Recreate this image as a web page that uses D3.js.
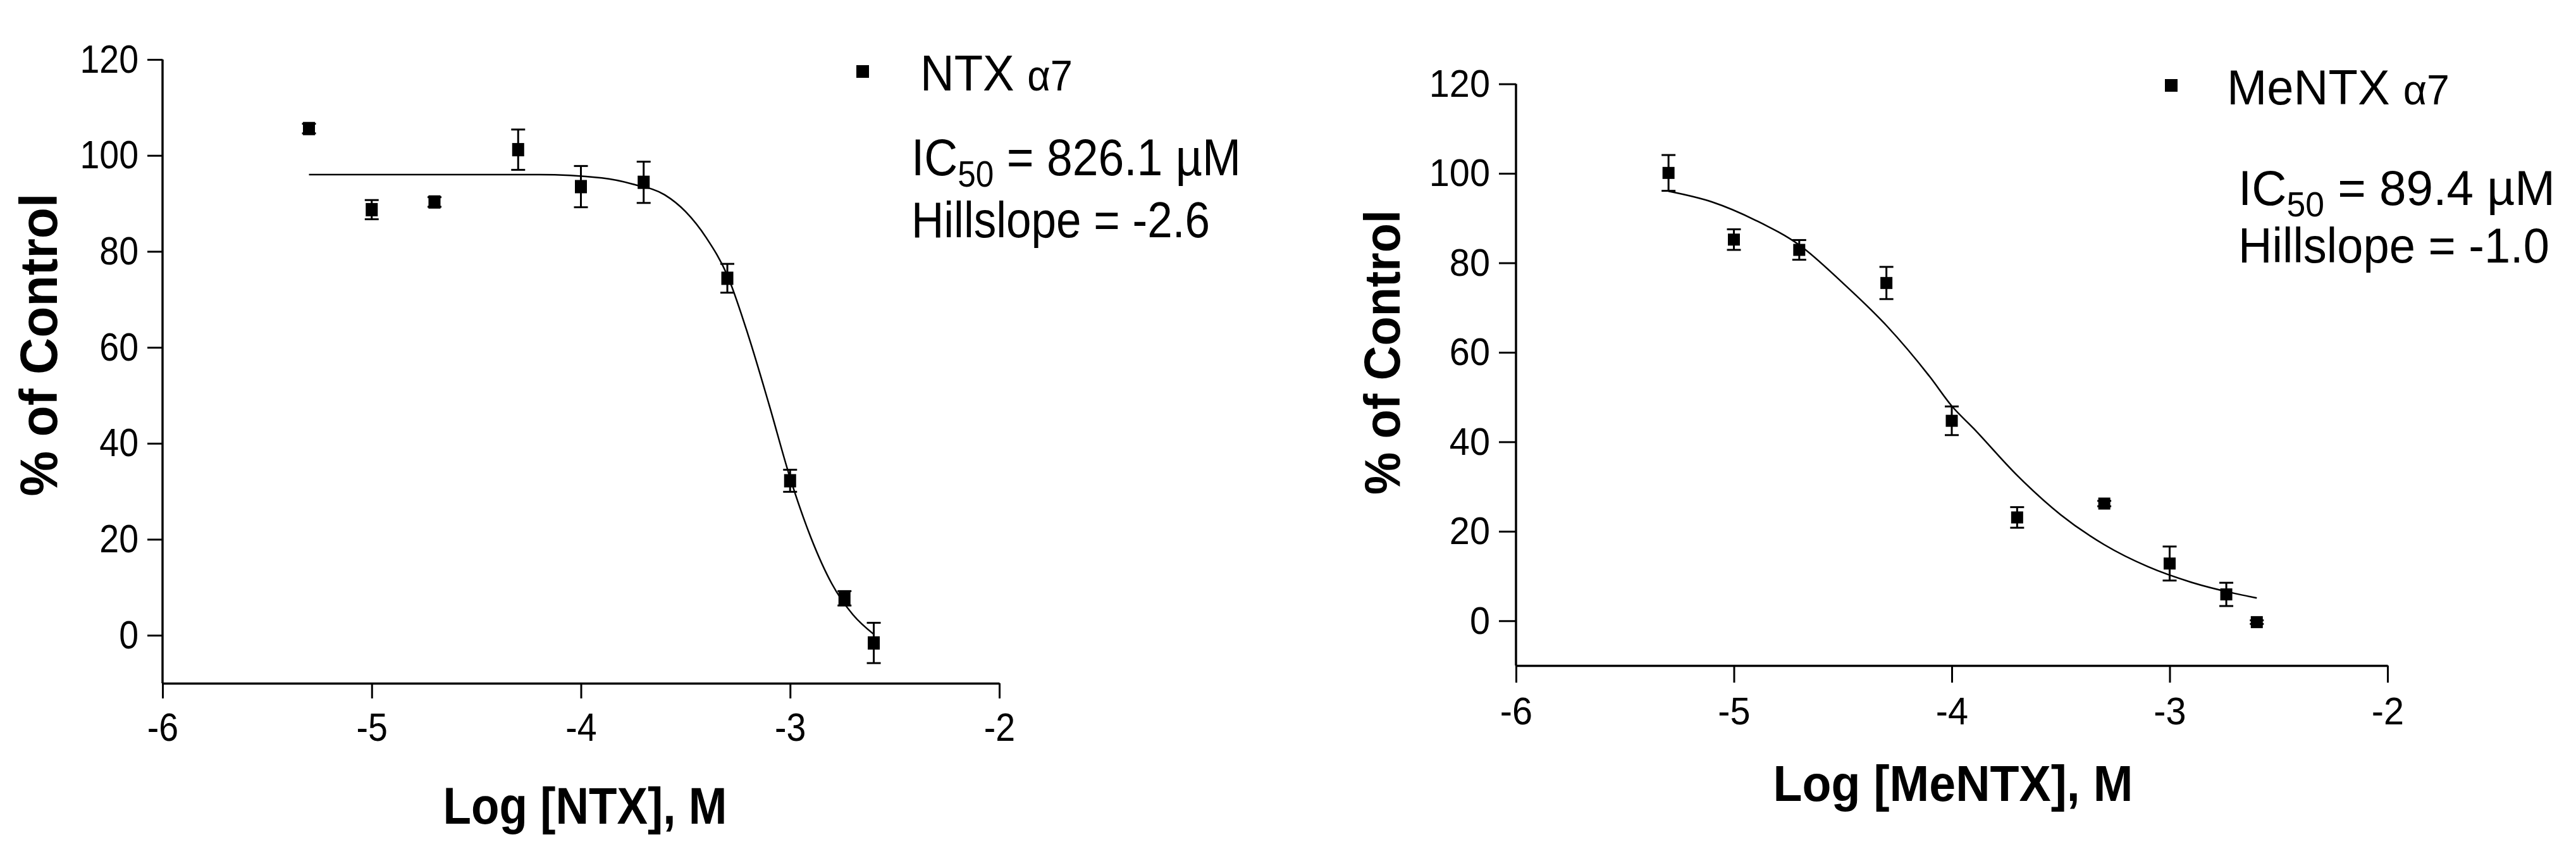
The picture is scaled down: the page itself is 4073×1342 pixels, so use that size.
<!DOCTYPE html>
<html>
<head>
<meta charset="utf-8">
<script src="https://cdn.jsdelivr.net/npm/d3@7"></script>
<style>
  body { margin: 0; background: #fff; }
  svg { display: block; }
  text { font-family: "Liberation Sans", Arial, sans-serif; fill: #000; }
</style>
</head>
<body>
<svg id="chart"></svg>
<script>
// DATA (log molar concentrations, same for both toxins)
const LOG_CONC = [-5.3, -5, -4.7, -4.3, -4, -3.7, -3.3, -3, -2.74, -2.6];

const NTX_RESPONSE = [105.6, 88.7, 90.3, 101.2, 93.5, 94.4, 74.4, 32.2, 7.7, -1.6];
const NTX_SEM = [1, 2, 1, 4.2, 4.3, 4.3, 3, 2.3, 1.5, 4.2];
// fitted curve
const NTX_FIT_X = [-5.3, -4.6, -4.2, -3.9, -3.75, -3.6, -3.5, -3.4, -3.3, -3.2, -3.1, -3.0, -2.9, -2.8, -2.7, -2.6];
const NTX_FIT_Y = [96, 96, 96, 95.3, 94, 91.8, 88.3, 82.8, 75, 62.5, 48, 32.8, 20.3, 10.7, 4.3, 0.2];

const MENTX_RESPONSE = [100.1, 85.2, 82.9, 75.5, 44.7, 23.1, 26.2, 12.8, 5.9, -0.3];
const MENTX_SEM = [4, 2.3, 2.2, 3.6, 3.2, 2.3, 0.6, 3.8, 2.6, 0.4];
const MENTX_FIT_X = [-5.3, -5.1, -4.9, -4.7, -4.5, -4.3, -4.1, -4.0, -3.9, -3.7, -3.5, -3.3, -3.1, -2.9, -2.7, -2.6];
const MENTX_FIT_Y = [96, 93.6, 89.5, 84, 75.5, 66, 54.5, 48, 43, 32.5, 23.7, 17, 12.1, 8.6, 6.1, 5.1];

const X_TICKS = [-6, -5, -4, -3, -2];
const Y_TICKS = [0, 20, 40, 60, 80, 100, 120];

const WIDTH = 4073;
const HEIGHT = 1342;

const svg = d3.select('#chart')
  .attr('width', WIDTH)
  .attr('height', HEIGHT);

const PANELS = [
  {
    y: NTX_RESPONSE, sem: NTX_SEM, fitX: NTX_FIT_X, fitY: NTX_FIT_Y,
    xRange: [257, 1580], yRange: [1080, 94],
    xTitle: 'Log [NTX], M', yTitle: '% of Control',
    tickFont: 63, tickLen: 24, tickSquash: 0.88,
    xTitlePos: [925, 1302, 81, 449], yTitlePos: [90, 545, 83, 479],
    legend: { sq: [1364, 113], name: ['NTX ', 'α7'], namePos: [1455, 143, 80, 241],
      ic: ['IC', '50', ' = 826.1 µM'], icPos: [1441, 277, 81, 521],
      hill: 'Hillslope = -2.6', hillPos: [1441, 375, 79, 472] },
    markW: 19, markH: 21
  },
  {
    y: MENTX_RESPONSE, sem: MENTX_SEM, fitX: MENTX_FIT_X, fitY: MENTX_FIT_Y,
    xRange: [2397, 3775], yRange: [1052, 132.6],
    xTitle: 'Log [MeNTX], M', yTitle: '% of Control',
    tickFont: 62, tickLen: 27, tickSquash: 0.93,
    xTitlePos: [3088, 1266, 79, 569], yTitlePos: [2213, 557, 80, 450],
    legend: { sq: [3433, 135], name: ['MeNTX ', 'α7'], namePos: [3521, 165, 78, 352],
      ic: ['IC', '50', ' = 89.4 µM'], icPos: [3539, 324, 78, 501],
      hill: 'Hillslope = -1.0', hillPos: [3539, 415, 77, 492] },
    markW: 19, markH: 19
  }
];

// squeeze a text horizontally so it fills the width seen in the picture
function fitText(t, base, len) {
  const w = t.node().getComputedTextLength();
  t.attr('transform', `${base} scale(${len / w}, 1)`);
}

PANELS.forEach(p => {
  const g = svg.append('g');

  //SCALES
  const xScale = d3.scaleLinear().domain([-6, -2]).range(p.xRange);
  const yScale = d3.scaleLinear().domain([-10, 120]).range(p.yRange);

  //X AXIS
  const xAxis = g.append('g')
    .attr('transform', `translate(0, ${yScale(-10)})`)
    .call(d3.axisBottom(xScale).tickValues(X_TICKS).tickFormat(d => String(d))
      .tickSize(p.tickLen).tickSizeOuter(0).tickPadding(22));

  //Y AXIS
  const yAxis = g.append('g')
    .attr('transform', `translate(${xScale(-6)}, 0)`)
    .call(d3.axisLeft(yScale).tickValues(Y_TICKS).tickFormat(d => String(d))
      .tickSize(p.tickLen).tickSizeOuter(0).tickPadding(14));

  [xAxis, yAxis].forEach(ax => {
    ax.select('.domain').attr('stroke', '#000').attr('stroke-width', 3.5);
    ax.selectAll('.tick line').attr('stroke', '#000').attr('stroke-width', 3);
    ax.selectAll('.tick text')
      .attr('fill', '#000')
      .style('font-family', '"Liberation Sans", Arial, sans-serif')
      .style('font-size', p.tickFont + 'px');
  });
  // narrow tick numbers, as in the picture
  xAxis.selectAll('.tick text').attr('transform', `scale(${p.tickSquash}, 1)`);
  yAxis.selectAll('.tick text')
    .attr('x', 0)
    .attr('transform', `translate(${-(p.tickLen + 14)}, 0) scale(${p.tickSquash}, 1)`);
  // y axis line only up to 120 tick, down to x axis
  yAxis.select('.domain').attr('d', `M0,${yScale(120)}V${yScale(-10)}`);

  //FIT CURVE
  const line = d3.line()
    .x((d, i) => xScale(p.fitX[i]))
    .y(d => yScale(d))
    .curve(d3.curveMonotoneX);
  g.append('path')
    .datum(p.fitY)
    .attr('d', line)
    .attr('fill', 'none')
    .attr('stroke', '#000')
    .attr('stroke-width', 2.5);

  //ERROR BARS
  const pts = LOG_CONC.map((c, i) => ({ x: c, y: p.y[i], e: p.sem[i] }));
  const eb = g.selectAll('.err').data(pts).enter().append('g').classed('err', true);
  eb.append('line')
    .attr('x1', d => xScale(d.x)).attr('x2', d => xScale(d.x))
    .attr('y1', d => yScale(d.y + d.e)).attr('y2', d => yScale(d.y - d.e));
  eb.append('line')
    .attr('x1', d => xScale(d.x) - 11).attr('x2', d => xScale(d.x) + 11)
    .attr('y1', d => yScale(d.y + d.e)).attr('y2', d => yScale(d.y + d.e));
  eb.append('line')
    .attr('x1', d => xScale(d.x) - 11).attr('x2', d => xScale(d.x) + 11)
    .attr('y1', d => yScale(d.y - d.e)).attr('y2', d => yScale(d.y - d.e));
  eb.selectAll('line').attr('stroke', '#000').attr('stroke-width', 3);

  //MARKERS
  g.selectAll('.mark').data(pts).enter().append('rect')
    .classed('mark', true)
    .attr('x', d => xScale(d.x) - p.markW / 2)
    .attr('y', d => yScale(d.y) - p.markH / 2)
    .attr('width', p.markW)
    .attr('height', p.markH)
    .attr('fill', '#000');

  //AXIS TITLES
  const xt = g.append('text')
    .attr('text-anchor', 'middle')
    .attr('font-weight', 'bold')
    .attr('font-size', p.xTitlePos[2])
    .text(p.xTitle);
  fitText(xt, `translate(${p.xTitlePos[0]}, ${p.xTitlePos[1]})`, p.xTitlePos[3]);

  const yt = g.append('text')
    .attr('text-anchor', 'middle')
    .attr('font-weight', 'bold')
    .attr('font-size', p.yTitlePos[2])
    .text(p.yTitle);
  fitText(yt, `translate(${p.yTitlePos[0]}, ${p.yTitlePos[1]}) rotate(-90)`, p.yTitlePos[3]);

  //LEGEND
  const lg = p.legend;
  g.append('rect')
    .attr('x', lg.sq[0] - 10).attr('y', lg.sq[1] - 10)
    .attr('width', 20).attr('height', 20)
    .attr('fill', '#000');

  const nameT = g.append('text').attr('font-size', lg.namePos[2]);
  nameT.append('tspan').text(lg.name[0]);
  nameT.append('tspan').attr('font-size', lg.namePos[2] * 0.85).text(lg.name[1]);
  fitText(nameT, `translate(${lg.namePos[0]}, ${lg.namePos[1]})`, lg.namePos[3]);

  const icT = g.append('text').attr('font-size', lg.icPos[2]);
  icT.append('tspan').text(lg.ic[0]);
  icT.append('tspan').attr('dy', 18).attr('font-size', lg.icPos[2] * 0.7).text(lg.ic[1]);
  icT.append('tspan').attr('dy', -18).text(lg.ic[2]);
  fitText(icT, `translate(${lg.icPos[0]}, ${lg.icPos[1]})`, lg.icPos[3]);

  const hillT = g.append('text')
    .attr('font-size', lg.hillPos[2])
    .text(lg.hill);
  fitText(hillT, `translate(${lg.hillPos[0]}, ${lg.hillPos[1]})`, lg.hillPos[3]);
});
</script>
</body>
</html>
